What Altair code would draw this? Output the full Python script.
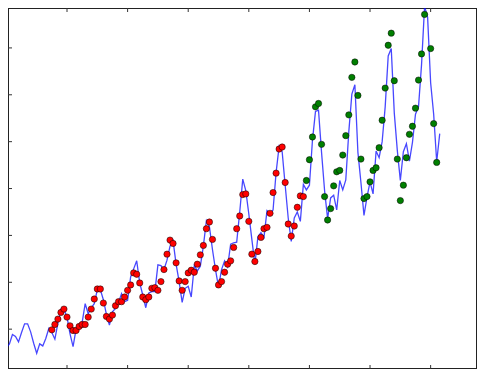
import altair as alt
import pandas as pd

# Monthly airline passengers (thousands), 1949-1960
passengers = [
    112, 118, 132, 129, 121, 135, 148, 148, 136, 119, 104, 118,
    115, 126, 141, 135, 125, 149, 170, 170, 158, 133, 114, 140,
    145, 150, 178, 163, 172, 178, 199, 199, 184, 162, 146, 166,
    171, 180, 193, 181, 183, 218, 230, 242, 209, 191, 172, 194,
    196, 196, 236, 235, 229, 243, 264, 272, 237, 211, 180, 201,
    204, 188, 235, 227, 234, 264, 302, 293, 259, 229, 203, 229,
    242, 233, 267, 269, 270, 315, 364, 347, 312, 274, 237, 278,
    284, 277, 317, 313, 318, 374, 413, 405, 355, 306, 271, 306,
    315, 301, 356, 348, 355, 422, 465, 467, 404, 347, 305, 336,
    340, 318, 362, 348, 363, 435, 491, 505, 404, 359, 310, 337,
    360, 342, 406, 396, 420, 472, 548, 559, 463, 407, 362, 405,
    417, 391, 419, 461, 472, 535, 622, 606, 508, 461, 390, 432,
]

# Training-set predictions (red), starting at time step 15
train_start = 15
train_pred = [
    139, 147, 155, 165, 170, 158, 145, 138, 138, 144, 147, 147, 158, 170,
    185, 200, 200, 179, 159, 155, 161, 175, 181, 181, 188, 198, 206, 224,
    222, 209, 188, 184, 188, 201, 202, 198, 211, 229, 252, 273, 268, 239,
    212, 198, 211, 224, 228, 225, 237, 251, 265, 290, 300, 274, 231, 206,
    211, 225, 237, 242, 262, 290, 309, 341, 342, 301, 252, 241, 256, 277,
    290, 292, 313, 344, 373, 409, 412, 359, 297, 279, 294, 322, 339, 338,
]

# Test-set predictions (green), starting at time step 99
test_start = 99
test_pred = [
    362, 393, 427, 472, 477, 416, 338, 303, 320, 354, 375, 377, 400, 429,
    460, 516, 539, 489, 394, 335, 338, 360, 377, 381, 411, 452, 500, 564,
    582, 511, 394, 332, 355, 396, 431, 443, 470, 512, 551, 610, 627, 559,
    447, 389,
]

x_ticks = [20, 40, 60, 80, 100, 120, 140]
y_ticks = [140, 210, 280, 350, 420, 490, 560]

W, H = 469, 361

line_df = pd.DataFrame({"t": list(range(len(passengers))), "v": passengers})
train_df = pd.DataFrame({"t": list(range(train_start, train_start + len(train_pred))), "v": train_pred})
test_df = pd.DataFrame({"t": list(range(test_start, test_start + len(test_pred))), "v": test_pred})
xt_df = pd.DataFrame({"t": x_ticks})
yt_df = pd.DataFrame({"v": y_ticks})

xs = alt.Scale(domain=[0.53, 155.3], nice=False, zero=False)
ys = alt.Scale(domain=[80.5, 619.6], nice=False, zero=False)

line = alt.Chart(line_df).mark_line(color="#0000ff", strokeWidth=1.3, opacity=0.72, clip=True).encode(
    x=alt.X("t:Q", scale=xs, axis=None),
    y=alt.Y("v:Q", scale=ys, axis=None),
)

train = alt.Chart(train_df).mark_point(
    shape="circle", filled=True, color="#ff0000", stroke="#000000", strokeWidth=0.5,
    size=40, opacity=1, clip=True,
).encode(x=alt.X("t:Q", scale=xs), y=alt.Y("v:Q", scale=ys))

test = alt.Chart(test_df).mark_point(
    shape="circle", filled=True, color="#007f00", stroke="#000000", strokeWidth=0.5,
    size=40, opacity=1, clip=True,
).encode(x=alt.X("t:Q", scale=xs), y=alt.Y("v:Q", scale=ys))

tick_style = dict(color="#333333", strokeWidth=1)
bottom_ticks = alt.Chart(xt_df).mark_rule(**tick_style).encode(
    x=alt.X("t:Q", scale=xs), y=alt.value(H), y2=alt.value(H - 4)
)
top_ticks = alt.Chart(xt_df).mark_rule(**tick_style).encode(
    x=alt.X("t:Q", scale=xs), y=alt.value(0), y2=alt.value(4)
)
left_ticks = alt.Chart(yt_df).mark_rule(**tick_style).encode(
    y=alt.Y("v:Q", scale=ys), x=alt.value(0), x2=alt.value(4)
)

chart = (
    alt.layer(line, train, test, bottom_ticks, top_ticks, left_ticks)
    .properties(
        width=W,
        height=H,
        padding=0,
        autosize=alt.AutoSizeParams(type="none"),
        background="white",
    )
    .configure_view(stroke="#222222", strokeWidth=2)
)

chart.save("out.html", embed_options={"renderer": "svg", "actions": False})
